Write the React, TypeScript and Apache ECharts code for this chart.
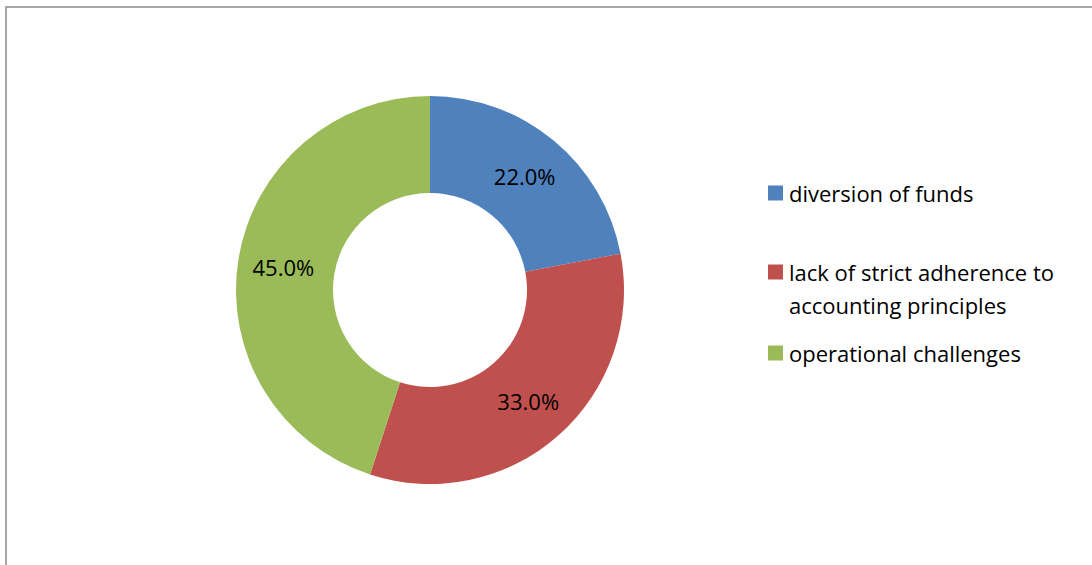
import React, { useEffect, useRef } from "react";
import * as echarts from "echarts";

const categories = [
  "diversion of funds",
  "lack of strict adherence to accounting principles",
  "operational challenges",
];
const values = [22.0, 33.0, 45.0];
const colors = ["#4F81BD", "#C0504D", "#9BBB59"];
const legendLabels = [
  "diversion of funds",
  " \nlack of strict adherence to\naccounting principles",
  "operational challenges",
];

export default function App() {
  const ref = useRef<HTMLDivElement>(null);
  useEffect(() => {
    if (!ref.current) return;
    const chart = echarts.init(ref.current, undefined, { renderer: "svg" });
    const font = "'Open Sans', 'Noto Sans', sans-serif";
    const legendTops = [171.5, 217.5, 331.5];
    chart.setOption({
      animation: false,
      graphic: [
        {
          type: "rect",
          shape: { x: 6, y: 7, width: 1200, height: 700 },
          style: { fill: "none", stroke: "#8a8a8a", lineWidth: 1.5 },
          silent: true,
        },
      ],
      legend: categories.map((c, i) => ({
        data: [c],
        left: 763,
        top: legendTops[i],
        orient: "vertical",
        icon: "rect",
        itemWidth: 15,
        itemHeight: 15,
        itemGap: 0,
        selectedMode: false,
        formatter: () => legendLabels[i],
        textStyle: {
          fontFamily: font,
          fontSize: 22,
          color: "#000",
          lineHeight: 33,
          padding: [0, 0, 0, 1],
        },
      })),
      series: [
        {
          type: "pie",
          center: [430, 290],
          radius: [97, 194],
          startAngle: 90,
          clockwise: true,
          avoidLabelOverlap: false,
          label: {
            show: true,
            position: "inside",
            formatter: (p: any) => p.value.toFixed(1) + "%",
            fontFamily: font,
            fontSize: 22,
            color: "#000",
          },
          labelLine: { show: false },
          itemStyle: { borderWidth: 0 },
          emphasis: { disabled: true },
          data: categories.map((c, i) => ({
            name: c,
            value: values[i],
            itemStyle: { color: colors[i] },
          })),
        },
      ],
    });
    return () => chart.dispose();
  }, []);
  return (
    <div
      ref={ref}
      style={{ position: "absolute", left: 0, top: 0, width: 1092, height: 565 }}
    />
  );
}
